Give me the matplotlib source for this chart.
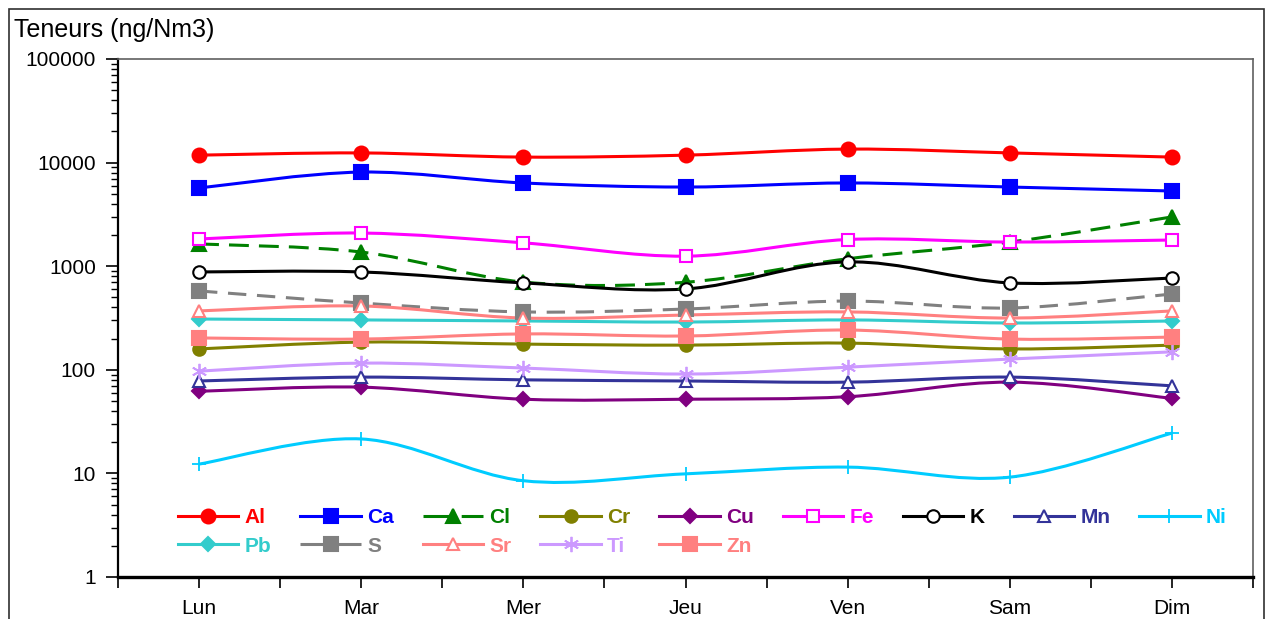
import numpy as np
import matplotlib
matplotlib.use("Agg")
import matplotlib.pyplot as plt
from matplotlib.path import Path
from matplotlib.patches import PathPatch, Rectangle
from matplotlib.lines import Line2D

plt.rcParams['font.family'] = ['Liberation Sans', 'DejaVu Sans']

# données (ng/Nm3)
jours = ['Lun', 'Mar', 'Mer', 'Jeu', 'Ven', 'Sam', 'Dim']
Al = [11800, 12400, 11300, 11800, 13500, 12400, 11300]
Ca = [5690, 8100, 6360, 5810, 6360, 5810, 5320]
Cl = [1640, 1370, 703, 700, 1180, 1710, 2990]
Cr = [159, 185, 177, 173, 181, 159, 173]
Cu = [62, 68, 52, 52, 55, 76, 53]
Fe = [1830, 2090, 1680, 1250, 1810, 1710, 1790]
K = [880, 880, 690, 603, 1100, 690, 769]
Mn = [78, 85, 80, 78, 76, 85, 70]
Ni = [12.3, 21.5, 8.5, 9.9, 11.5, 9.2, 24.5]
Pb = [309, 303, 296, 289, 303, 283, 296]
S = [577, 441, 362, 386, 461, 395, 539]
Sr = [370, 413, 316, 338, 362, 316, 370]
Ti = [97, 116, 104, 91, 106, 127, 149]
Zn = [203, 198, 222, 212, 242, 198, 207]

# nom, valeurs, couleur, marqueur, taille, plein, style de trait
series = [
    ('Al', Al, '#FF0000', 'o', 10, True, '-'),
    ('Ca', Ca, '#0000FF', 's', 9.5, True, '-'),
    ('Cl', Cl, '#008000', '^', 10, True, (0, (6.5, 3.3))),
    ('Cr', Cr, '#808000', 'o', 9, True, '-'),
    ('Cu', Cu, '#800080', 'D', 7, True, '-'),
    ('Fe', Fe, '#FF00FF', 's', 9, False, '-'),
    ('K', K, '#000000', 'o', 9, False, '-'),
    ('Mn', Mn, '#333399', '^', 9, False, '-'),
    ('Ni', Ni, '#00CCFF', '+', 10, True, '-'),
    ('Pb', Pb, '#33CCCC', 'D', 7, True, '-'),
    ('S', S, '#808080', 's', 9.5, True, (0, (6, 3.5))),
    ('Sr', Sr, '#FF8080', '^', 9, False, '-'),
    ('Ti', Ti, '#CC99FF', (6, 2, 0), 11, True, '-'),
    ('Zn', Zn, '#FF8080', 's', 9.5, True, '-'),
]


def courbe_lissee(xs, ys):
    # lissage type Excel (Bezier), calculé en espace log
    lx = np.asarray(xs, float)
    ly = np.log10(np.asarray(ys, float))
    n = len(lx)
    verts = [(lx[0], ly[0])]
    codes = [Path.MOVETO]
    for i in range(n - 1):
        a = max(i - 1, 0)
        b = min(i + 2, n - 1)
        c1 = (lx[i] + (lx[i + 1] - lx[a]) / 6, ly[i] + (ly[i + 1] - ly[a]) / 6)
        c2 = (lx[i + 1] - (lx[b] - lx[i]) / 6, ly[i + 1] - (ly[b] - ly[i]) / 6)
        verts += [c1, c2, (lx[i + 1], ly[i + 1])]
        codes += [Path.CURVE4] * 3
    verts = [(vx, 10 ** vy) for vx, vy in verts]
    return Path(verts, codes)


fig = plt.figure(figsize=(12.67, 6.19), dpi=100)
ax = fig.add_axes([118 / 1267, 1 - 577 / 619, (1253 - 118) / 1267, (577 - 59) / 619])
ax.set_yscale('log')

x = np.arange(len(jours))
handles = {}
for nom, vals, col, mk, ms, plein, ls in series:
    ax.add_patch(PathPatch(courbe_lissee(x, vals), fill=False, edgecolor=col,
                           lw=2.2, linestyle=ls, capstyle='butt', zorder=2))
    fc = col if plein else 'white'
    mew = 1.3 if mk in ('+', (6, 2, 0)) else 1.5
    ax.plot(x, vals, ls='none', marker=mk, ms=ms, mfc=fc, mec=col, mew=mew, zorder=3)
    ls_leg = '-' if ls == '-' else (0, (9, 3.5, 20))
    handles[nom] = Line2D([], [], color=col, lw=2.2, linestyle=ls_leg, marker=mk, ms=ms,
                          mfc=fc, mec=col, mew=mew)

ax.set_xlim(-0.5, 6.5)
ax.set_ylim(1, 100000)
ax.set_xticks(x)
ax.set_xticklabels(jours, fontsize=15)
ax.set_xticks(np.arange(-0.5, 7, 1), minor=True)
ax.tick_params(axis='x', which='both', length=8, width=1.2, direction='out', pad=8)
ax.set_yticks([1, 10, 100, 1000, 10000, 100000])
ax.set_yticklabels(['1', '10', '100', '1000', '10000', '100000'], fontsize=15)
ax.tick_params(axis='y', which='major', length=9, width=1.2, direction='out', pad=7)
ax.tick_params(axis='y', which='minor', length=5, width=1.0, direction='out')

for cote in ('top', 'right'):
    ax.spines[cote].set_color('#606060')
    ax.spines[cote].set_linewidth(1.2)
ax.spines['left'].set_linewidth(1.6)
ax.spines['bottom'].set_linewidth(2.4)

# légende : ordre par colonnes
ordre = ['Al', 'Pb', 'Ca', 'S', 'Cl', 'Sr', 'Cr', 'Ti', 'Cu', 'Zn', 'Fe', 'K', 'Mn', 'Ni']
leg = ax.legend([handles[k] for k in ordre], ordre, ncol=9, frameon=False,
                loc='center left', bbox_to_anchor=(178 / 1267, 1 - 532 / 619),
                bbox_transform=fig.transFigure, borderpad=0, borderaxespad=0,
                handlelength=2.9, handletextpad=0.3, columnspacing=1.39,
                labelspacing=0.45, prop={'size': 15, 'weight': 'bold'})
for txt, k in zip(leg.get_texts(), ordre):
    txt.set_color(handles[k].get_color())

fig.text(14 / 1267, 1 - 30 / 619, 'Teneurs (ng/Nm3)', fontsize=18, va='center', ha='left')

fig.patches.append(Rectangle((9 / 1267, -0.05), (1264 - 9) / 1267, 1.05 - 9 / 619,
                             transform=fig.transFigure, fill=False,
                             edgecolor='#303030', lw=1.2))

fig.savefig('out.png', dpi=100)
